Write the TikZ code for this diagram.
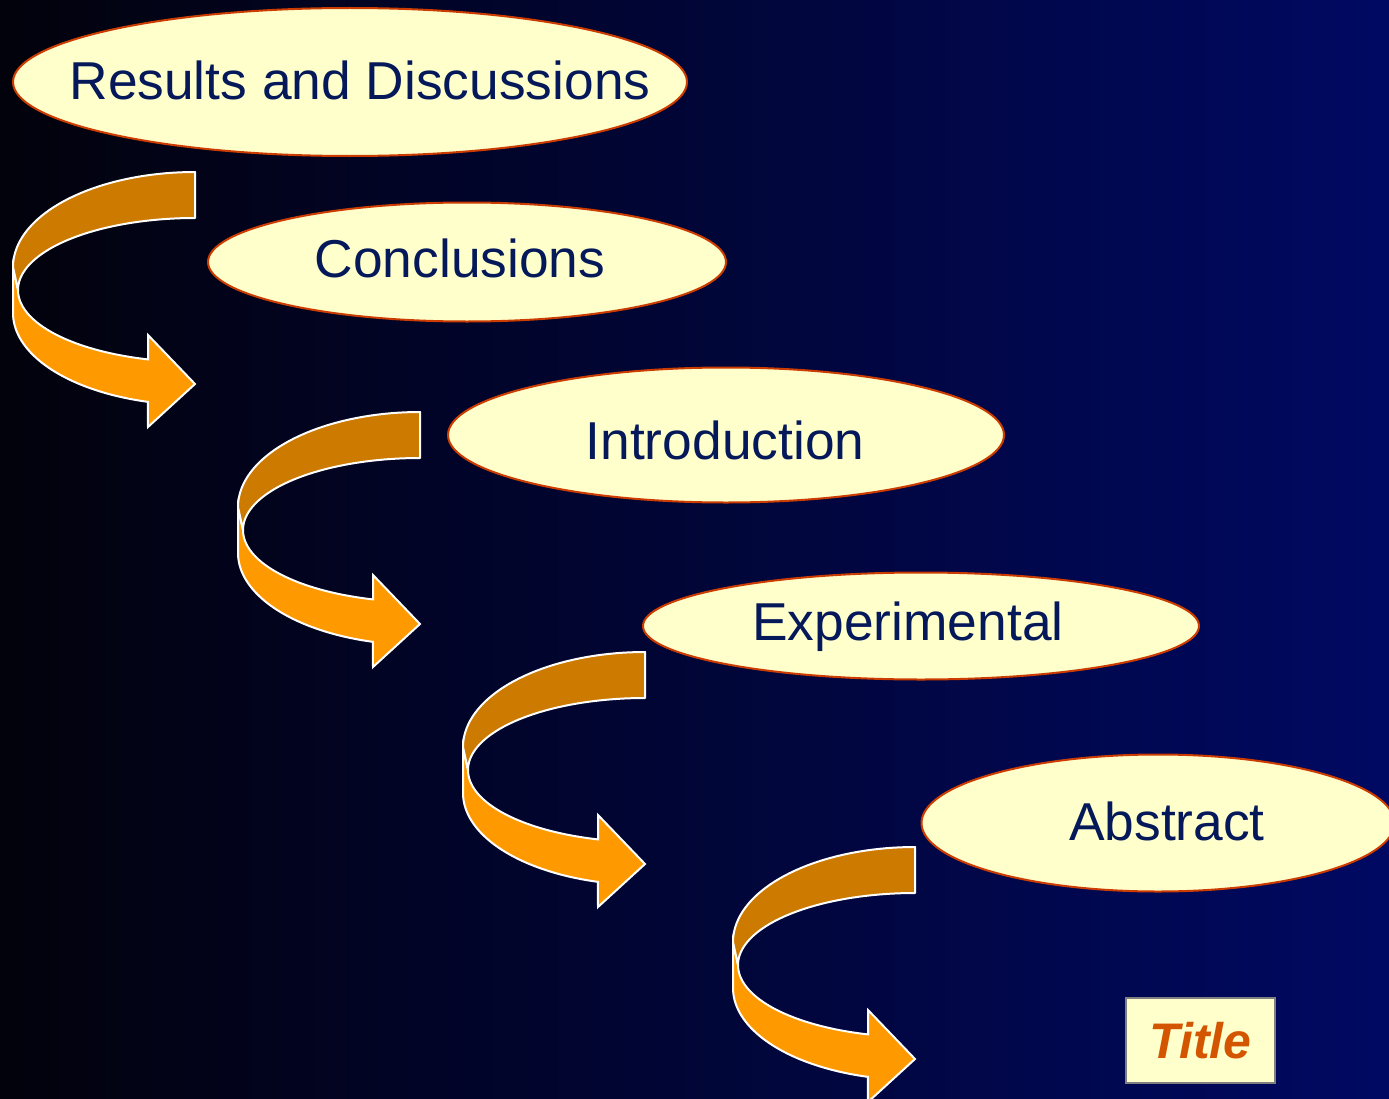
\documentclass[tikz,border=0pt]{standalone}
\usepackage{fontspec}
\setmainfont{Liberation Sans}
\usetikzlibrary{shapes.geometric}
\definecolor{bgL}{RGB}{2,2,12}
\definecolor{bgR}{RGB}{0,9,98}
\definecolor{ovalfill}{RGB}{255,255,204}
\definecolor{ovaledge}{RGB}{204,60,0}
\definecolor{navytext}{RGB}{5,25,90}
\definecolor{darkband}{RGB}{204,122,0}
\definecolor{lightband}{RGB}{255,153,0}
\definecolor{titletext}{RGB}{212,85,0}
\definecolor{titleedge}{RGB}{128,128,128}
\tikzset{
  oval/.style={ellipse, draw=ovaledge, fill=ovalfill, line width=1.5pt, inner sep=0pt},
  ovaltext/.style={anchor=base, text=navytext, font=\fontsize{40}{44}\selectfont, inner sep=0pt},
  bandA/.style={fill=darkband, draw=white, line width=1.5pt, line join=round},
  bandB/.style={fill=lightband, draw=white, line width=1.5pt, line join=miter},
  titlebox/.style={draw=titleedge, fill=ovalfill, line width=1.6pt, minimum width=111.75pt, minimum height=63.75pt, text=titletext, font=\fontsize{37.5}{40}\selectfont\bfseries\itshape},
  curvarrow/.pic={
    \path[bandB] (-182,95) -- (-182,141)
      -- plot[domain=180:105,samples=40] ({182*cos(\x)},{141+92*sin(\x)})
      -- (-47,255) -- (0,212) -- (-47,163)
      -- plot[domain=105.4:180,samples=40] ({177*cos(\x)},{118+72*sin(\x)})
      -- cycle;
    \path[bandA] (0,0)
      -- plot[domain=270:180,samples=40] ({182*cos(\x)},{95+95*sin(\x)})
      -- plot[domain=180:270,samples=40] ({177*cos(\x)},{118+72*sin(\x)})
      -- cycle;
  }
}
\begin{document}
\begin{tikzpicture}[x=0.75pt,y=-0.75pt]
\useasboundingbox (0,0) rectangle (1389,1099);
\clip (0,0) rectangle (1389,1099);
\shade[left color=bgL, right color=bgR] (0,0) rectangle (1389,1099);

% ovals
\node[oval, minimum width=505.5pt, minimum height=111pt] (e1) at (350,82) {};
\node[oval, minimum width=388.5pt, minimum height=89.25pt] (e2) at (467,262) {};
\node[oval, minimum width=417pt, minimum height=101.25pt] (e3) at (726,435) {};
\node[oval, minimum width=417pt, minimum height=80.25pt] (e4) at (921,626) {};
\node[oval, minimum width=354.75pt, minimum height=102.75pt] (e5) at (1158,823) {};

\node[ovaltext] (t1) at (360,99) {Results and Discussions};
\node[ovaltext] (t2) at (460,277) {Conclusions};
\node[ovaltext] (t3) at (725,459) {Introduction};
\node[ovaltext] (t4) at (908,640) {Experimental};
\node[ovaltext] (t5) at (1167,840) {Abstract};

% curved arrows
\pic (a1) at (195,172) {curvarrow};
\pic (a2) at (420,412) {curvarrow};
\pic (a3) at (645,652) {curvarrow};
\pic (a4) at (915,847) {curvarrow};

% title box
\node[titlebox] (title) at (1200.5,1040.5) {Title};
\end{tikzpicture}
\end{document}
